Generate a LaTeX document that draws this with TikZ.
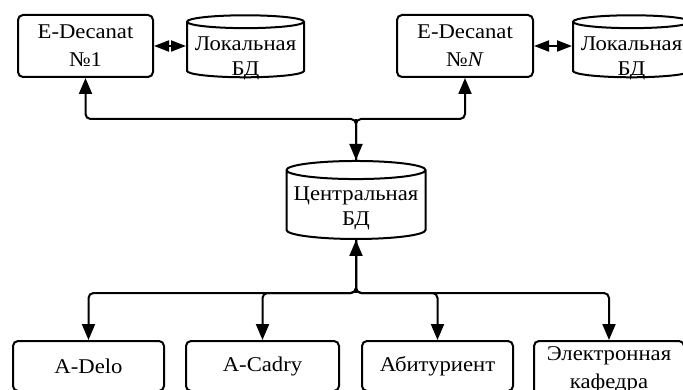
\documentclass[tikz,border=0pt]{standalone}
\usepackage{fontspec}
\setmainfont{Liberation Serif}[FakeStretch=1.08]
\usetikzlibrary{arrows.meta,shapes.geometric}
\tikzset{
  block/.style={draw, rounded corners=5pt, line width=2pt, align=center, inner sep=0pt,
    font=\fontsize{21}{28}\selectfont},
  db/.style={draw, cylinder, shape border rotate=90, line width=2pt, inner sep=0pt},
  dbtext/.style={align=center, font=\fontsize{21}{25}\selectfont},
  link/.style={line width=2pt, rounded corners=5pt, -{Triangle[length=16pt,width=13pt]}},
  dlink/.style={line width=2pt, {Triangle[length=15pt,width=11pt]}-{Triangle[length=15pt,width=11pt]}}
}
\begin{document}
\begin{tikzpicture}[x=1pt,y=-1pt]
\useasboundingbox (0,0) rectangle (683,390);
\clip (0,0) rectangle (683,390);
% top row
\node[block, minimum width=135pt, minimum height=62pt] (dec1) at (85.5,46) {E-Decanat\\№1};
\node[db, aspect=0.11, text width=117pt, minimum height=62pt] (loc1) at (245.5,50) {};
\node[dbtext] (loc1t) at (245.5,58) {Локальная\\БД};
\node[block, minimum width=136pt, minimum height=62pt] (decN) at (465,46) {E-Decanat\\№\textit{N}};
\node[db, aspect=0.11, text width=117pt, minimum height=62pt] (locN) at (631.5,50) {};
\node[dbtext] (locNt) at (631.5,58) {Локальная\\БД};
% central database
\node[db, aspect=0.13, text width=139pt, minimum height=78pt] (central) at (356,205) {};
\node[dbtext] (centralt) at (356,208) {Центральная\\БД};
% bottom row
\node[block, minimum width=151pt, minimum height=50pt] (delo) at (88.5,366) {A-Delo};
\node[block, minimum width=153pt, minimum height=50pt] (cadry) at (262.5,366) {A-Cadry};
\node[block, minimum width=151pt, minimum height=50pt] (abit) at (437.5,366) {Абитуриент};
\node[block, minimum width=150pt, minimum height=58pt] (kaf) at (609,370) {Электронная\\кафедра};
\coordinate (top) at (356,119);
\coordinate (bot) at (356,293);
% connectors
\draw[dlink] (dec1.east) -- (dec1.east -| loc1.west);
\draw[dlink] (decN.east) -- (decN.east -| locN.west);
\draw[link] (central.north) -- (top) -| (dec1.south);
\draw[link] (central.north) -- (top) -| (decN.south);
\draw[link] (top) -- (central.north);
\draw[link] (central.south) -- (bot) -| (delo.north);
\draw[link] (central.south) -- (bot) -| (cadry.north);
\draw[link] (central.south) -- (bot) -| (abit.north);
\draw[link] (central.south) -- (bot) -| (kaf.north);
\draw[link] (bot) -- (central.south);
\end{tikzpicture}
\end{document}
